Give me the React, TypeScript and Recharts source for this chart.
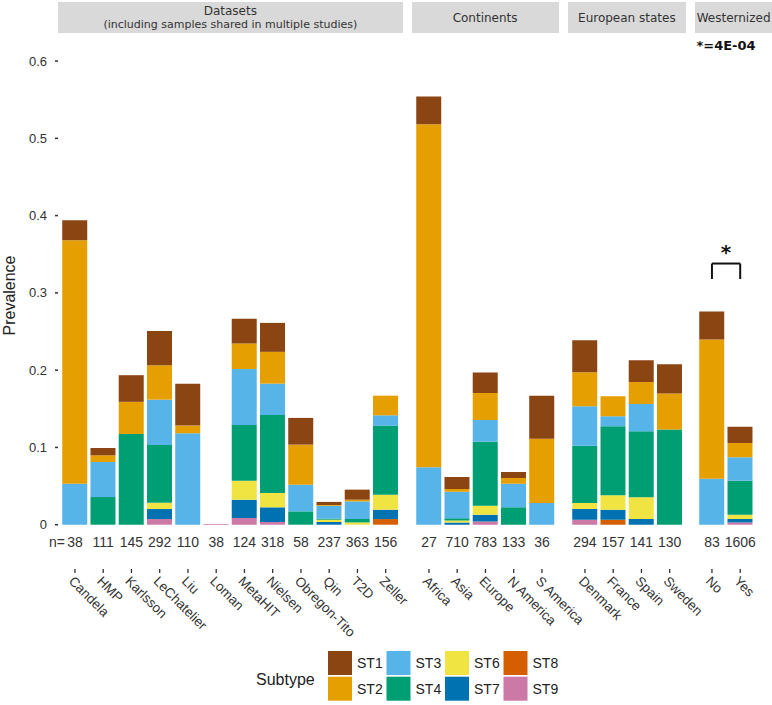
import React from "react";
import { BarChart, Bar, XAxis, YAxis, ReferenceLine, Legend } from "recharts";

// categories per facet
const DATASETS = ["Candela", "HMP", "Karlsson", "LeChatelier", "Liu", "Loman", "MetaHIT", "Nielsen", "Obregon-Tito", "Qin", "T2D", "Zeller"];
const CONTINENTS = ["Africa", "Asia", "Europe", "N America", "S America"];
const EU_STATES = ["Denmark", "France", "Spain", "Sweden"];
const WESTERNIZED = ["No", "Yes"];
const ALL_CATS = [...DATASETS, ...CONTINENTS, ...EU_STATES, ...WESTERNIZED];

// sample sizes, same order as ALL_CATS
const SAMPLE_N = [38, 111, 145, 292, 110, 38, 124, 318, 58, 237, 363, 156, 27, 710, 783, 133, 36, 294, 157, 141, 130, 83, 1606];

// prevalence per subtype, same order as ALL_CATS
const ST1 = [0.026, 0.0095, 0.0345, 0.0444, 0.054, 0, 0.0319, 0.0375, 0.0346, 0.004, 0.013, 0, 0.036, 0.0155, 0.0263, 0.0077, 0.0556, 0.0415, 0, 0.0281, 0.038, 0.0363, 0.0211];
const ST2 = [0.315, 0.0086, 0.0416, 0.0445, 0.01, 0, 0.0329, 0.0411, 0.0518, 0.001, 0.0022, 0.0254, 0.444, 0.0035, 0.035, 0.0074, 0.0833, 0.044, 0.0259, 0.0285, 0.0466, 0.18, 0.0186];
const ST3 = [0.053, 0.0454, 0, 0.0587, 0.1183, 0, 0.0725, 0.0406, 0.0345, 0.0165, 0.0228, 0.0136, 0.0743, 0.0345, 0.0281, 0.0306, 0.0281, 0.051, 0.0129, 0.0354, 0, 0.0596, 0.0302];
const ST4 = [0, 0.0358, 0.1174, 0.0748, 0, 0, 0.0721, 0.101, 0.0173, 0.0015, 0.0044, 0.0891, 0, 0.0026, 0.0829, 0.0225, 0, 0.0742, 0.0894, 0.0855, 0.1231, 0, 0.044];
const ST6 = [0, 0, 0, 0.008, 0, 0, 0.0246, 0.0185, 0, 0.003, 0.003, 0.0195, 0, 0.0026, 0.0116, 0, 0, 0.0078, 0.0186, 0.0281, 0, 0, 0.0057];
const ST7 = [0, 0, 0, 0.013, 0, 0, 0.0238, 0.019, 0, 0.0035, 0, 0.0121, 0, 0.003, 0.0087, 0, 0, 0.0138, 0.0129, 0.0073, 0, 0, 0.0043];
const ST8 = [0, 0, 0, 0, 0, 0, 0, 0, 0, 0, 0, 0.0073, 0, 0, 0, 0, 0, 0, 0.0065, 0, 0, 0, 0];
const ST9 = [0, 0, 0, 0.0073, 0, 0.001, 0.0086, 0.0035, 0, 0, 0, 0, 0, 0, 0.0043, 0, 0, 0.0065, 0, 0, 0, 0, 0.003];

const Y_TICKS = [0, 0.1, 0.2, 0.3, 0.4, 0.5, 0.6];
const Y_DOMAIN = [-0.0573, 0.635];

// significance annotation (Westernized No vs Yes)
const SIG_TEXT = "*=4E-04";
const SIG_TEXT_Y = 0.62;
const BRACKET_TOP = 0.338;
const BRACKET_FOOT = 0.318;

const SUBTYPES = ["ST1", "ST2", "ST3", "ST4", "ST6", "ST7", "ST8", "ST9"];
const COLORS: Record<string, string> = {
  ST1: "#8B4513",
  ST2: "#E69F00",
  ST3: "#56B4E9",
  ST4: "#009E73",
  ST6: "#F0E442",
  ST7: "#0072B2",
  ST8: "#D55E00",
  ST9: "#CC79A7",
};
const SERIES: Record<string, number[]> = { ST1, ST2, ST3, ST4, ST6, ST7, ST8, ST9 };

const rows = ALL_CATS.map((name, i) => {
  const r: any = { name, n: SAMPLE_N[i] };
  SUBTYPES.forEach((s) => (r[s] = SERIES[s][i]));
  return r;
});
const N_BY_NAME: Record<string, number> = Object.fromEntries(rows.map((r) => [r.name, r.n]));

const PANELS = [
  { title: ["Datasets", "(including samples shared in multiple studies)"], cats: DATASETS },
  { title: ["Continents"], cats: CONTINENTS },
  { title: ["European states"], cats: EU_STATES },
  { title: ["Westernized"], cats: WESTERNIZED },
];

const U = 28.25; // px per category
const Y_AXIS_W = 58;
const GAP = 9;
const TOP = 34;
const AXIS_Y = 569;
const H = 705;
const AX_FONT = "'Liberation Sans', Arial, sans-serif";
const STRIP_FONT = "'DejaVu Sans', Verdana, sans-serif";

function CatTick(props: any) {
  const { x, y, payload, index, prefix } = props;
  const nx = x - 7;
  const ny = y + 7;
  return (
    <g fontFamily={AX_FONT} fill="#333">
      <text x={x} y={y - 28} textAnchor="middle" fontSize={14} fill="#333">
        {N_BY_NAME[payload.value]}
      </text>
      {prefix && index === 0 && (
        <text x={x - 10} y={y - 28} textAnchor="end" fontSize={14} fill="#333">
          n=
        </text>
      )}
      <text x={nx} y={ny} transform={`rotate(45 ${nx} ${ny})`} textAnchor="start" fontSize={13.5} fill="#333">
        {payload.value}
      </text>
    </g>
  );
}

function SubtypeLegend(props: any) {
  const payload: any[] = props.payload || [];
  const byName: Record<string, string> = {};
  payload.forEach((p) => (byName[p.value] = p.color));
  return (
    <svg width={300} height={60} style={{ display: "block", overflow: "visible" }}>
      <text x={6} y={39} fontSize={16} fontFamily={AX_FONT} fill="#222">
        Subtype
      </text>
      {SUBTYPES.map((s, i) => {
        const bx = 78 + Math.floor(i / 2) * 58.5;
        const by = 5 + (i % 2) * 25.7;
        return (
          <g key={s}>
            <rect x={bx} y={by} width={24} height={24} fill={byName[s] || COLORS[s]} />
            <text x={bx + 29} y={by + 17} fontSize={14} fontFamily={AX_FONT} fill="#222">
              {s}
            </text>
          </g>
        );
      })}
    </svg>
  );
}

export default function App() {
  let cursor = Y_AXIS_W;
  const layout = PANELS.map((p) => {
    const w = (p.cats.length + 0.2) * U;
    const left = cursor;
    cursor += w + GAP;
    return { ...p, left, w };
  });

  return (
    <div style={{ position: "absolute", left: 0, top: 0, width: 772, height: H, background: "#fff" }}>
      <style>{`.recharts-surface, .recharts-wrapper { overflow: visible !important; }`}</style>
      {layout.map((p, pi) => {
        const first = pi === 0;
        const last = pi === layout.length - 1;
        const data = rows.filter((r) => p.cats.includes(r.name));
        const stripW = last ? 772 - p.left : p.w;
        return (
          <React.Fragment key={pi}>
            <div
              style={{
                position: "absolute",
                left: p.left,
                top: 2,
                width: stripW,
                height: 31,
                background: "#d9d9d9",
                display: "flex",
                flexDirection: "column",
                alignItems: "center",
                justifyContent: "center",
                fontFamily: STRIP_FONT,
                color: "#333",
                whiteSpace: "nowrap",
                overflow: "hidden",
              }}
            >
              {p.title.map((t, ti) => (
                <div key={ti} style={{ fontSize: ti === 0 ? 12 : 11, lineHeight: "14px" }}>
                  {t}
                </div>
              ))}
            </div>
            <div style={{ position: "absolute", left: first ? 0 : p.left, top: 0 }}>
              <BarChart
                width={first ? Y_AXIS_W + p.w : p.w}
                height={H}
                data={data}
                margin={{ top: TOP, right: 0, bottom: 0, left: 0 }}
                barCategoryGap="5%"
                style={{ overflow: "visible" }}
              >
                <XAxis
                  dataKey="name"
                  interval={0}
                  height={H - AXIS_Y}
                  padding={{ left: 0.1 * U, right: 0.1 * U }}
                  axisLine={false}
                  tickSize={4}
                  tickMargin={2}
                  tickLine={{ stroke: "#333", strokeWidth: 1.3 }}
                  tick={<CatTick prefix={first} />}
                />
                <YAxis
                  hide={!first}
                  width={Y_AXIS_W}
                  type="number"
                  domain={Y_DOMAIN}
                  allowDataOverflow
                  ticks={Y_TICKS}
                  axisLine={false}
                  tickSize={3}
                  tickMargin={8}
                  tickLine={{ stroke: "#333", strokeWidth: 1.5 }}
                  tick={{ fontSize: 13, fill: "#333", fontFamily: AX_FONT }}
                  label={{
                    content: (lp: any) => {
                      const vb = lp.viewBox || { x: 0, y: TOP, width: Y_AXIS_W, height: AXIS_Y - TOP };
                      const cx = 15;
                      const cy = vb.y + vb.height / 2 - 6;
                      return (
                        <text
                          x={cx}
                          y={cy}
                          transform={`rotate(-90 ${cx} ${cy})`}
                          textAnchor="middle"
                          fontSize={16}
                          fontFamily={AX_FONT}
                          fill="#222"
                        >
                          Prevalence
                        </text>
                      );
                    },
                  }}
                />
                {[...SUBTYPES].reverse().map((s) => (
                  <Bar key={s} dataKey={s} name={s} stackId="st" fill={COLORS[s]} isAnimationActive={false} />
                ))}
                {last && (
                  <ReferenceLine
                    segment={[
                      { x: "No", y: SIG_TEXT_Y },
                      { x: "Yes", y: SIG_TEXT_Y },
                    ]}
                    stroke="none"
                    ifOverflow="visible"
                    label={{ value: SIG_TEXT, position: "center", fontSize: 13, fontWeight: "bold", fill: "#111", fontFamily: STRIP_FONT }}
                  />
                )}
                {last && (
                  <ReferenceLine
                    segment={[
                      { x: "No", y: BRACKET_TOP },
                      { x: "Yes", y: BRACKET_TOP },
                    ]}
                    stroke="#111"
                    strokeWidth={2}
                    ifOverflow="visible"
                    label={{ value: "*", position: "top", fontSize: 20, fontWeight: "bold", fill: "#111", fontFamily: STRIP_FONT }}
                  />
                )}
                {last &&
                  WESTERNIZED.map((c) => (
                    <ReferenceLine
                      key={c}
                      segment={[
                        { x: c, y: BRACKET_FOOT },
                        { x: c, y: BRACKET_TOP },
                      ]}
                      stroke="#111"
                      strokeWidth={2}
                      ifOverflow="visible"
                    />
                  ))}
                {first && (
                  <Legend
                    verticalAlign="middle"
                    align="center"
                    layout="horizontal"
                    wrapperStyle={{ left: 250, top: 646, width: 300, height: 60 }}
                    content={<SubtypeLegend />}
                  />
                )}
              </BarChart>
            </div>
          </React.Fragment>
        );
      })}
    </div>
  );
}
